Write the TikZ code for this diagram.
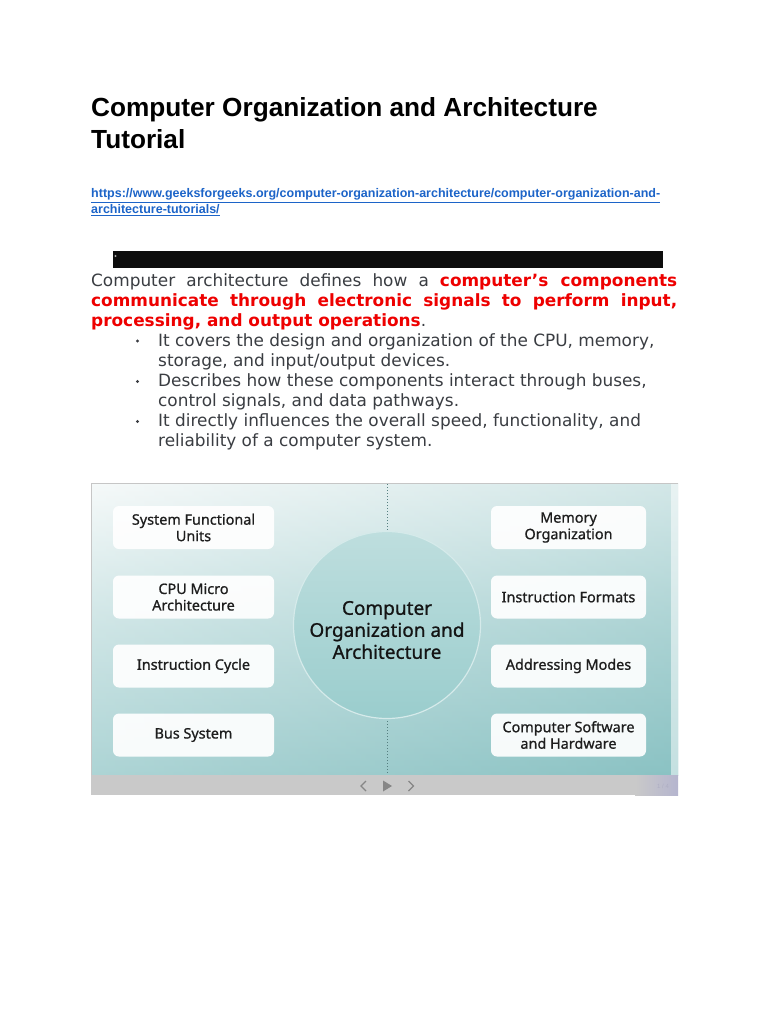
\documentclass[tikz,border=0pt]{standalone}
\usepackage{fontspec}
\setmainfont{Liberation Sans}
\newfontfamily\dejavu{DejaVu Sans}
\newfontfamily\boxfont[FakeBold=0.9]{Noto Sans}
\definecolor{linkblue}{HTML}{1C64C8}
\definecolor{bodygray}{HTML}{3A3D42}
\definecolor{hired}{HTML}{EE0000}
\definecolor{tealdark}{HTML}{8AC2C3}
\definecolor{teallight}{HTML}{F2F7F7}
\definecolor{circtop}{HTML}{BEDEDE}
\definecolor{circbot}{HTML}{9ACDCD}
\definecolor{navgray}{HTML}{C9C9C9}
\definecolor{navmark}{HTML}{868686}
\definecolor{dotline}{HTML}{557F80}
\definecolor{boxtext}{HTML}{1E1E1E}
\begin{document}
\begin{tikzpicture}[x=1pt,y=-1pt,
  titletext/.style={anchor=base west,inner sep=0pt,font=\fontsize{26.2}{30}\selectfont\bfseries},
  linktext/.style={anchor=base west,inner sep=0pt,text=linkblue,font=\fontsize{12.5}{14}\selectfont\bfseries},
  bodyline/.style={anchor=base west,inner sep=0pt,text=bodygray,font=\dejavu\fontsize{16.9}{20}\selectfont},
  bulletdot/.style={circle,fill=bodygray,inner sep=0pt,minimum size=3.2pt},
  topicbox/.style={draw=none,fill=white,fill opacity=0.92,text opacity=1,rounded corners=6pt,
    minimum height=43pt,align=center,text=boxtext,inner sep=2pt,
    font=\boxfont\fontsize{14.4}{16.5}\selectfont},
  leftbox/.style={topicbox,minimum width=161pt},
  rightbox/.style={topicbox,minimum width=155pt}
]
\useasboundingbox (0,0) rectangle (768,1024);
\fill[white] (0,0) rectangle (768,1024);

% title
\node[titletext] (title1) at (91,117) {Computer Organization and Architecture};
\node[titletext] (title2) at (91,149) {Tutorial};

% link
\node[linktext] (link1) at (91,198) {\underline{https://www.geeksforgeeks.org/computer-organization-architecture/computer-organization-and-}};
\node[linktext] (link2) at (91,214) {\underline{architecture-tutorials/}};

% black bar
\fill[black!95] (113,251) rectangle (663,268);
\fill[gray!70] (115.5,256) circle (1.1pt);

% paragraph
\node[bodyline] (p1) at (91,286) {\makebox[586pt][s]{Computer architecture defines how a \textcolor{hired}{\bfseries computer’s components}}};
\node[bodyline] (p2) at (91,306) {\makebox[586pt][s]{\textcolor{hired}{\bfseries communicate through electronic signals to perform input,}}};
\node[bodyline] (p3) at (91,326) {\textcolor{hired}{\bfseries processing, and output operations}.};

% bullets
\node[bulletdot] (b1) at (137.5,341) {};
\node[bulletdot] (b2) at (137.5,381.5) {};
\node[bulletdot] (b3) at (137.5,421.5) {};
\node[bodyline] (l1) at (158,346) {It covers the design and organization of the CPU, memory,};
\node[bodyline] (l2) at (158,366) {storage, and input/output devices.};
\node[bodyline] (l3) at (158,386.5) {Describes how these components interact through buses,};
\node[bodyline] (l4) at (158,406.5) {control signals, and data pathways.};
\node[bodyline] (l5) at (158,426.5) {It directly influences the overall speed, functionality, and};
\node[bodyline] (l6) at (158,446.5) {reliability of a computer system.};

% image background
\shade[top color=teallight,bottom color=tealdark,middle color=tealdark!55!teallight] (91,483) rectangle (678,775);
\shade[left color=white,right color=tealdark,opacity=0.3] (91,483) rectangle (678,775);
\fill[white,opacity=0.5] (671,483) rectangle (678,775);
\draw[gray!45,line width=0.8pt] (91.4,775) -- (91.4,483.4) -- (678,483.4);

% dotted axis
\draw[dotline,dotted,line width=1pt] (387,484) -- (387,775);

% central circle
\node[circle,minimum size=187pt,inner sep=0pt,draw=white!35!circtop,line width=1.2pt,
  top color=circtop,bottom color=circbot] (core) at (387,625) {};
\node[align=center,text=black!92,inner sep=0pt,
  font=\boxfont\fontsize{19}{22}\selectfont] (coretext) at (387,630)
  {Computer\\Organization and\\Architecture};

% left boxes
\node[leftbox] (sfu) at (193.5,527.5) {System Functional\\Units};
\node[leftbox] (cpu) at (193.5,597) {CPU Micro\\Architecture};
\node[leftbox] (icy) at (193.5,666) {Instruction Cycle};
\node[leftbox] (bus) at (193.5,735) {Bus System};

% right boxes
\node[rightbox] (mem) at (568.5,527.5) {Memory\\Organization};
\node[rightbox] (ifm) at (568.5,597) {Instruction Formats};
\node[rightbox] (adm) at (568.5,666) {Addressing Modes};
\node[rightbox] (csh) at (568.5,735) {Computer Software\\and Hardware};

% nav bar
\fill[navgray] (91,775) rectangle (678,795);
\shade[left color=navgray,right color=blue!10!navgray] (635,775) rectangle (678,795);
\draw[navmark,line width=1.3pt] (366,781) -- (361,786) -- (366,791);
\draw[navmark,line width=1.3pt] (408.5,781) -- (413.5,786) -- (408.5,791);
\fill[navmark] (383,780.5) -- (383,791.5) -- (392,786) -- cycle;
\node[inner sep=0pt,text=blue!15!gray!55,font=\fontsize{6}{7}\selectfont] (page) at (663,786) {1 / 4};
\end{tikzpicture}
\end{document}
